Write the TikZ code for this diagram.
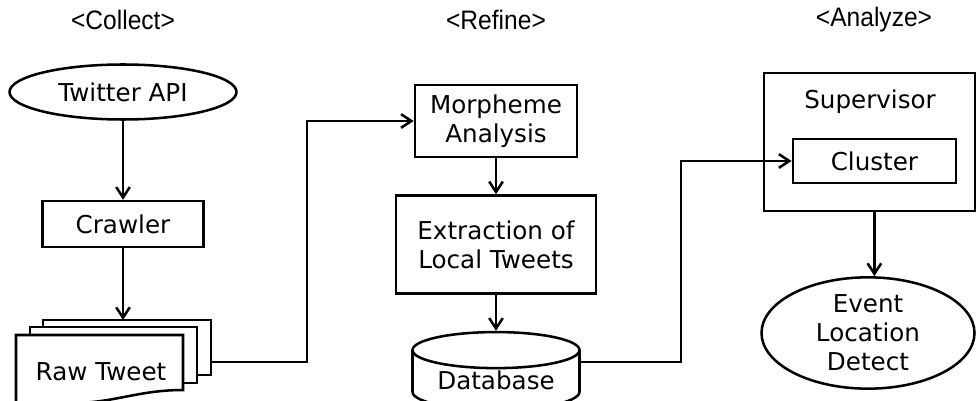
\documentclass[tikz,border=0pt]{standalone}
\usepackage{fontspec}
\setmainfont{DejaVu Sans}
\newfontfamily\headfont{Liberation Sans}
\usetikzlibrary{shapes, arrows.meta, positioning, calc}

\begin{document}
\begin{tikzpicture}[
  >={Straight Barb[length=2.6mm, width=3.4mm]},
  line width=1.8pt,
  procnode/.style={draw, rectangle, fill=white, font=\fontsize{17.5}{20.5}\selectfont, align=center, inner sep=2pt},
  termnode/.style={draw, ellipse, fill=white, font=\fontsize{17.5}{20.5}\selectfont, align=center, inner sep=1pt},
  dbnode/.style={draw, cylinder, shape border rotate=90, aspect=0.3, fill=white, font=\fontsize{17.5}{20.5}\selectfont, inner sep=1pt},
  plain/.style={font=\fontsize{17.5}{20.5}\selectfont, align=center, inner sep=1pt},
  stagelabel/.style={font=\headfont\fontsize{19}{20}\selectfont, inner sep=1pt, xscale=0.92},
  flow/.style={->, line width=1.8pt},
  sheet/.style={draw, fill=white, line width=1.8pt}
]
\useasboundingbox (0,0) rectangle (24.425,-10.025);

% Stage titles
\node[stagelabel] (tCollect) at (3.075,-0.5)  {<Collect>};
\node[stagelabel] (tRefine)  at (12.4,-0.5)   {<Refine>};
\node[stagelabel] (tAnalyze) at (21.85,-0.5)  {<Analyze>};

% Collect
\node[termnode, minimum width=5.675cm, minimum height=1.375cm] (api) at (3.075,-2.3) {Twitter API};
\node[procnode, minimum width=4.025cm, minimum height=1.15cm]  (crawler) [below=1.975cm of api] {Crawler};

% Raw tweet stack (drawn by hand)
\draw[sheet] (1.075,-8.0) rectangle (5.275,-9.375);
\draw[sheet] (0.75,-8.175) rectangle (4.925,-9.575);
\draw[sheet] (0.4,-8.375) -- (4.575,-8.375) -- (4.575,-9.75)
  .. controls (3.6,-9.75) and (3.0,-10.0) .. (2.2,-10.06)
  .. controls (1.4,-10.12) .. (0.4,-10.12) -- cycle;
\node[plain] (raw) at (2.525,-9.3) {Raw Tweet};
\coordinate (rawTop) at (crawler.south |- 0,-8.0);
\coordinate (rawOut) at (5.275,-9.05);
\coordinate (bendA)  at (7.675,-9.05);

% Refine
\node[procnode, minimum width=4.05cm, minimum height=1.8cm] (morph) at (12.4,-3.025) {Morpheme\\Analysis};
\node[procnode, minimum width=5.0cm, minimum height=2.45cm] (extract) [below=0.9cm of morph] {Extraction of\\Local Tweets};
\node[dbnode, minimum width=4.175cm, minimum height=1.825cm] (db) [below=0.9cm of extract] {\raisebox{3pt}{Database}};
\coordinate (bendB) at (17.025,-9.05);

% Analyze
\node[procnode, minimum width=5.275cm, minimum height=3.45cm] (super) at (21.74,-3.55) {};
\node[plain] (superLbl) at (21.75,-2.55) {Supervisor};
\node[procnode, minimum width=4.075cm, minimum height=1.1cm] (cluster) at (21.86,-4.025) {Cluster};
\node[termnode, minimum width=5.325cm, minimum height=2.475cm] (event) at (21.7,-8.325) {Event\\Location\\Detect};

% Flows
\draw[flow] (api) -- (crawler);
\draw[flow] (crawler) -- (rawTop);
\draw[flow] (rawOut) -- (bendA) |- (morph.west);
\draw[flow] (morph) -- (extract);
\draw[flow] (extract) -- (db);
\draw[flow] (db.east |- bendB) -- (bendB) |- (cluster.west);
\draw[flow] (cluster |- super.south) -- (cluster |- event.north);
\end{tikzpicture}
\end{document}
